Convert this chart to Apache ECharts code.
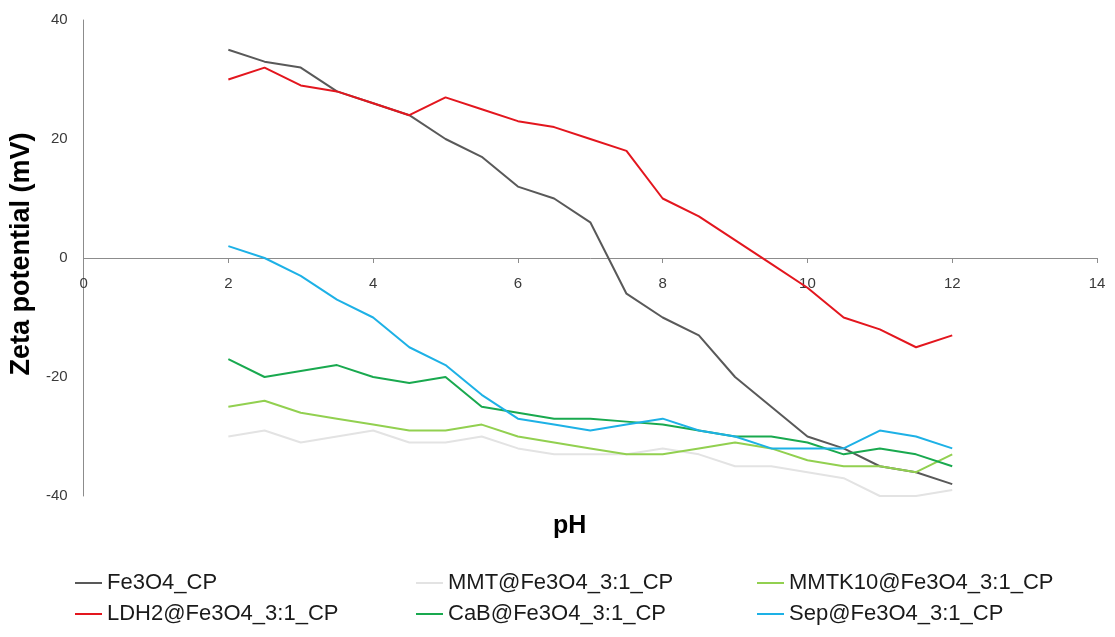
<!DOCTYPE html>
<html>
<head>
<meta charset="utf-8">
<title>Zeta potential vs pH</title>
<script src="https://cdn.jsdelivr.net/npm/echarts@6/dist/echarts.min.js"></script>
<style>
  html, body { margin: 0; padding: 0; background: #ffffff; }
  #chart { width: 1115px; height: 637px; }
</style>
</head>
<body>
<div id="chart"></div>
<script>
// pH values at which zeta potential was measured
const pH = [2, 2.5, 3, 3.5, 4, 4.5, 5, 5.5, 6, 6.5, 7, 7.5, 8, 8.5, 9, 9.5, 10, 10.5, 11, 11.5, 12];

// Zeta potential (mV) for each sample
const fe3o4   = [35, 33, 32, 28, 26, 24, 20, 17, 12, 10, 6, -6, -10, -13, -20, -25, -30, -32, -35, -36, -38];
const mmt     = [-30, -29, -31, -30, -29, -31, -31, -30, -32, -33, -33, -33, -32, -33, -35, -35, -36, -37, -40, -40, -39];
const mmtk10  = [-25, -24, -26, -27, -28, -29, -29, -28, -30, -31, -32, -33, -33, -32, -31, -32, -34, -35, -35, -36, -33];
const ldh2    = [30, 32, 29, 28, 26, 24, 27, 25, 23, 22, 20, 18, 10, 7, 3, -1, -5, -10, -12, -15, -13];
const cab     = [-17, -20, -19, -18, -20, -21, -20, -25, -26, -27, -27, -27.5, -28, -29, -30, -30, -31, -33, -32, -33, -35];
const sep     = [2, 0, -3, -7, -10, -15, -18, -23, -27, -28, -29, -28, -27, -29, -30, -32, -32, -32, -29, -30, -32];

// Series names, in drawing order
const seriesNames = [
  'Fe3O4_CP',
  'MMT@Fe3O4_3:1_CP',
  'MMTK10@Fe3O4_3:1_CP',
  'LDH2@Fe3O4_3:1_CP',
  'CaB@Fe3O4_3:1_CP',
  'Sep@Fe3O4_3:1_CP'
];
const seriesValues = [fe3o4, mmt, mmtk10, ldh2, cab, sep];
const seriesColors = ['#595959', '#e3e3e3', '#92d050', '#e3161e', '#19a94f', '#1db1e6'];

// Axis tick settings
const xTicks = { min: 0, max: 14, interval: 2 };
const yTicks = { min: -40, max: 40, interval: 20 };

const FONT = 'Liberation Sans';

// Plot area geometry (px)
const GRID = { left: 82, right: 18, top: 20, bottom: 141 };
const plotHeight = 637 - GRID.top - GRID.bottom;
// Shift the x axis (line, ticks and labels) up from the bottom to y = 0
const xAxisOffset = -plotHeight * (0 - yTicks.min) / (yTicks.max - yTicks.min);

const chart = echarts.init(document.getElementById('chart'), null, { renderer: 'canvas' });

const series = seriesNames.map((name, i) => ({
  name: name,
  type: 'line',
  data: pH.map((x, j) => [x, seriesValues[i][j]]),
  showSymbol: false,
  symbol: 'none',
  lineStyle: { width: 2, color: seriesColors[i] },
  itemStyle: { color: seriesColors[i] },
  emphasis: { disabled: true },
  animation: false,
  z: 2 + i
}));

// Legend laid out as three columns of two entries each
function legendColumn(left, names) {
  return {
    orient: 'vertical',
    left: left,
    top: 567,
    itemWidth: 27,
    itemHeight: 2,
    itemGap: 9,
    icon: 'rect',
    data: names,
    selectedMode: false,
    textStyle: { fontFamily: FONT, fontSize: 22, color: '#1a1a1a', lineHeight: 22 }
  };
}

const option = {
  backgroundColor: '#ffffff',
  animation: false,
  grid: { left: GRID.left, right: GRID.right, top: GRID.top, bottom: GRID.bottom, containLabel: false },
  title: {
    text: 'pH',
    left: 553,
    top: 514,
    padding: 0,
    textStyle: { fontFamily: FONT, fontSize: 25, fontWeight: 'bold', color: '#000000' }
  },
  legend: [
    legendColumn(70, ['Fe3O4_CP', 'LDH2@Fe3O4_3:1_CP']),
    legendColumn(411, ['MMT@Fe3O4_3:1_CP', 'CaB@Fe3O4_3:1_CP']),
    legendColumn(752, ['MMTK10@Fe3O4_3:1_CP', 'Sep@Fe3O4_3:1_CP'])
  ],
  xAxis: {
    type: 'value',
    min: xTicks.min,
    max: xTicks.max,
    interval: xTicks.interval,
    position: 'bottom',
    offset: xAxisOffset,
    axisLine: { show: true, onZero: false, lineStyle: { color: '#8c8c8c', width: 1 } },
    axisTick: { show: true, inside: false, length: 5, lineStyle: { color: '#8c8c8c' } },
    axisLabel: { margin: 18, fontFamily: FONT, fontSize: 15, color: '#3a3a3a' },
    splitLine: { show: false }
  },
  yAxis: {
    type: 'value',
    min: yTicks.min,
    max: yTicks.max,
    interval: yTicks.interval,
    name: 'Zeta potential (mV)',
    nameLocation: 'middle',
    nameGap: 44,
    nameTextStyle: { fontFamily: FONT, fontSize: 27, fontWeight: 'bold', color: '#000000', padding: [0, 0, 0, 8] },
    axisLine: { show: true, onZero: false, lineStyle: { color: '#8c8c8c', width: 1 } },
    axisTick: { show: false },
    axisLabel: { margin: 16, fontFamily: FONT, fontSize: 15, color: '#3a3a3a' },
    splitLine: { show: false }
  },
  series: series
};

chart.setOption(option);
</script>
</body>
</html>
